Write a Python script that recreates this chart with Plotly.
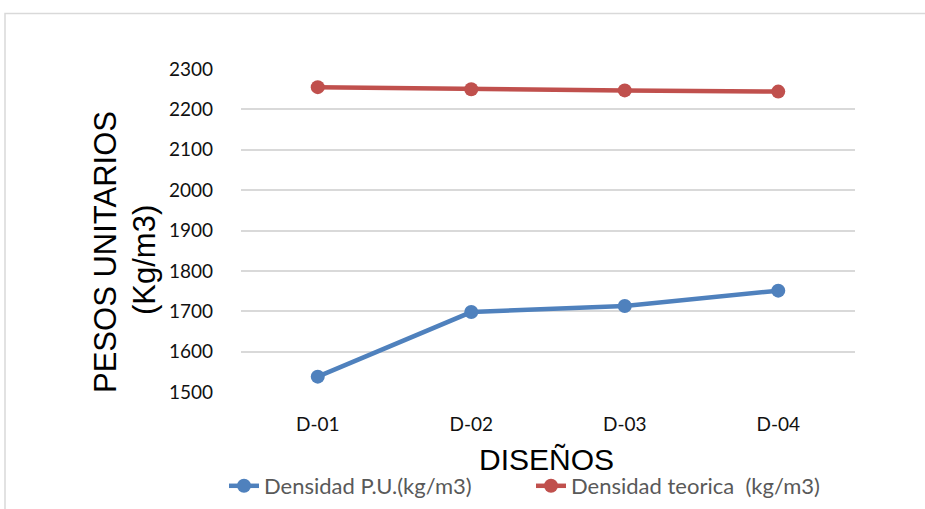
import plotly.graph_objects as go

# Mix designs and measured / theoretical unit weights (kg/m3)
disenos = ["D-01", "D-02", "D-03", "D-04"]
densidad_pu = [1538, 1698, 1713, 1751]
densidad_teorica = [2255, 2250, 2247, 2244]

serie_pu = "Densidad P.U.(kg/m3)"
serie_teo = "Densidad teorica  (kg/m3)"

W, H = 925, 509
L, R, T, B = 241, 70, 69, 117
pw, ph = W - L - R, H - T - B


def px(x):
    return (x - L) / pw


def py(y):
    return (H - B - y) / ph


fig = go.Figure()
fig.add_trace(go.Scatter(
    x=disenos, y=densidad_pu, name=serie_pu, mode="lines+markers",
    line=dict(color="#4f81bd", width=4.5),
    marker=dict(color="#4f81bd", size=14),
))
fig.add_trace(go.Scatter(
    x=disenos, y=densidad_teorica, name=serie_teo, mode="lines+markers",
    line=dict(color="#c0504d", width=4.5),
    marker=dict(color="#c0504d", size=14),
))

tick_font = dict(family="Lato, Open Sans, sans-serif", size=19, color="#111111")
title_font = "Liberation Sans, Arial, sans-serif"

fig.update_xaxes(
    type="category", range=[-0.5, 3.5], showgrid=False, zeroline=False,
    showline=False, ticks="", tickfont=tick_font, ticklabelstandoff=19,
    automargin=False,
)
fig.update_yaxes(
    range=[1500, 2300], dtick=100, showgrid=True, gridcolor="#d9d9d9",
    gridwidth=1.5, zeroline=False, showline=False, ticks="",
    tickfont=tick_font, ticklabelstandoff=27, automargin=False,
)

fig.update_layout(
    width=W, height=H,
    margin=dict(l=L, r=R, t=T, b=B, pad=0, autoexpand=False),
    paper_bgcolor="white", plot_bgcolor="white",
    showlegend=True,
    legend=dict(
        orientation="h", x=px(224), y=py(486), xanchor="left", yanchor="middle",
        font=dict(family="Lato, Open Sans, sans-serif", size=22, color="#595959"),
        entrywidth=262, entrywidthmode="pixels",
        bgcolor="rgba(0,0,0,0)",
    ),
    shapes=[
        # outer chart frame
        dict(type="rect", xref="paper", yref="paper",
             x0=px(5), x1=px(940), y0=py(525), y1=py(13.5),
             line=dict(color="#d9d9d9", width=1.5), fillcolor="rgba(0,0,0,0)",
             layer="below"),
    ],
    annotations=[
        dict(text="PESOS UNITARIOS", textangle=-90, xref="paper", yref="paper",
             x=px(105), y=py(252), xanchor="center", yanchor="middle",
             showarrow=False, font=dict(family=title_font, size=31, color="#000000")),
        dict(text="(Kg/m3)", textangle=-90, xref="paper", yref="paper",
             x=px(144), y=py(260), xanchor="center", yanchor="middle",
             showarrow=False, font=dict(family=title_font, size=31, color="#000000")),
        dict(text="DISEÑOS", xref="paper", yref="paper",
             x=px(546), y=py(459), xanchor="center", yanchor="middle",
             showarrow=False, font=dict(family=title_font, size=30, color="#000000")),
    ],
)

fig.write_html("out.html")
